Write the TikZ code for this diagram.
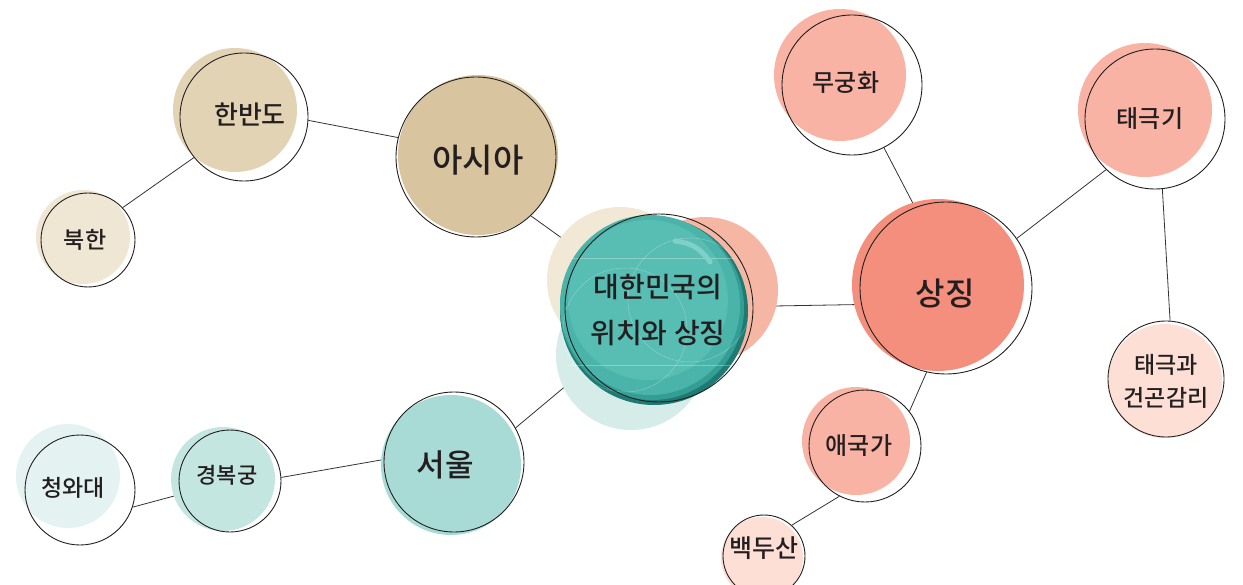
\documentclass[tikz,border=0pt]{standalone}
\usepackage{fontspec}
\setmainfont{Noto Sans CJK KR}[UprightFont=* Medium]
\usetikzlibrary{backgrounds}
\definecolor{txt}{HTML}{231F20}
\definecolor{ringc}{HTML}{231F20}
\definecolor{linec}{HTML}{333333}
\definecolor{tanA}{HTML}{E3D3B5}
\definecolor{tanB}{HTML}{D9C4A0}
\definecolor{tanC}{HTML}{EFE6D3}
\definecolor{salA}{HTML}{F9B3A4}
\definecolor{salB}{HTML}{F48F7E}
\definecolor{salC}{HTML}{FDDFD6}
\definecolor{tealA}{HTML}{A8DBD6}
\definecolor{tealB}{HTML}{C4E6E1}
\definecolor{tealC}{HTML}{E4F3F2}
\definecolor{decBeige}{HTML}{F2E8D6}
\definecolor{decSal}{HTML}{F5B6A3}
\definecolor{decTeal}{HTML}{D6ECE9}
\definecolor{tb1}{HTML}{58BDB3}
\definecolor{tb2}{HTML}{4BB4AA}
\definecolor{tb3}{HTML}{349D94}
\definecolor{tb4}{HTML}{1F7A73}
\definecolor{hilite}{HTML}{7FD0C8}
% name, ring x, ring y, ring r, fill x, fill y, fill r, colour
\newcommand\mkbub[8]{%
  \fill[white] (#2,#3) circle (#4pt);
  \fill[#8] (#5,#6) circle (#7pt);
  \node[ring, minimum size=2*#4pt] (#1) at (#2,#3) {};
}
\begin{document}
\begin{tikzpicture}[x=1pt,y=-1pt,
  ring/.style={circle, draw=ringc, line width=0.9pt, inner sep=0pt},
  lab/.style={inner sep=0pt, text=txt, align=center},
  link/.style={draw=linec, line width=0.8pt}]
\useasboundingbox (0,0) rectangle (1243,585);

% centre node with decorative discs
\fill[decBeige] (620,280) circle (73pt);
\fill[decSal] (705,290) circle (73pt);
\fill[decTeal] (631,355) circle (75pt);
% teal ball: darker rim at the bottom right, lighter core
\fill[tb4] (654,311) circle (94pt);
\fill[tb3] (652,308) circle (92pt);
\fill[tb2] (650,305) circle (90pt);
\fill[tb1] (648,300) circle (80pt);
\begin{scope}[white, opacity=0.3, line width=0.5pt]
  \draw (690,300) circle (62pt);
  \draw (625,330) circle (62pt);
  \draw (572,258) -- (735,258);
  \draw (568,365) -- (740,365);
\end{scope}
\draw[hilite, line width=5pt, line cap=round] (675,241) to[bend left=25] (710,262);
\node[ring, minimum size=188pt] (ctr) at (659,308) {};
\node[lab, font=\fontsize{28}{46}\selectfont] (ctr-t) at (658,310) {대한민국의\\위치와 상징};

% Asia branch
\mkbub{asia}{476}{157}{80}{478}{155}{80}{tanB}
\node[lab, font=\fontsize{33}{38}\selectfont] (asia-t) at (478,160) {아시아};
\mkbub{hb}{244}{117}{64}{235}{110}{62}{tanA}
\node[lab, font=\fontsize{26}{30}\selectfont] (hb-t) at (250,115) {한반도};
\mkbub{bh}{88}{240}{47}{83}{237}{47}{tanC}
\node[lab, font=\fontsize{23}{27}\selectfont] (bh-t) at (85,240) {북한};

% Seoul branch
\mkbub{seoul}{454}{462}{70}{451}{465}{70}{tealA}
\node[lab, font=\fontsize{31}{36}\selectfont] (seoul-t) at (445,465) {서울};
\mkbub{gbg}{230}{481}{51}{223}{479}{52}{tealB}
\node[lab, font=\fontsize{22}{26}\selectfont] (gbg-t) at (227,475) {경복궁};
\mkbub{cwd}{80}{490}{55}{68}{476}{52}{tealC}
\node[lab, font=\fontsize{23}{27}\selectfont] (cwd-t) at (73,488) {청와대};

% Symbol branch
\mkbub{sj}{946}{288}{86}{938}{285}{86}{salB}
\node[lab, font=\fontsize{32}{38}\selectfont] (sj-t) at (945,294) {상징};
\mkbub{mgh}{852}{85}{70}{840}{75}{66}{salA}
\node[lab, font=\fontsize{24}{28}\selectfont] (mgh-t) at (846,83) {무궁화};
\mkbub{tgg}{1155}{119}{70}{1145}{110}{67}{salA}
\node[lab, font=\fontsize{24}{28}\selectfont] (tgg-t) at (1150,119) {태극기};
\mkbub{tgk}{1166}{379}{58}{1165}{381}{57}{salC}
\node[lab, font=\fontsize{23}{33}\selectfont] (tgk-t) at (1166,381) {태극과\\건곤감리};
\mkbub{agg}{865}{446}{56}{856}{441}{54}{salA}
\node[lab, font=\fontsize{24}{28}\selectfont] (agg-t) at (859,446) {애국가};
\mkbub{bds}{764}{556}{41}{762}{558}{41}{salC}
\node[lab, font=\fontsize{25}{29}\selectfont] (bds-t) at (764,548) {백두산};

% connectors
\begin{scope}[on background layer]
  \draw[link] (hb.-3) -- (asia.166);
  \draw[link] (hb.219) -- (bh.43);
  \draw[link] (asia.-47) -- (ctr.center);
  \draw[link] (seoul.29) -- (ctr.center);
  \draw[link] (seoul.178) -- (gbg.4);
  \draw[link] (cwd.-18) -- (gbg.center);
  \draw[link] (ctr.center) -- (sj.191);
  \draw[link] (sj.111) -- (mgh.-63);
  \draw[link] (sj.35) -- (tgg.226);
  \draw[link] (tgg.-84) -- (tgk.86);
  \draw[link] (sj.-103) -- (agg.38);
  \draw[link] (agg.-117) -- (bds.48);
\end{scope}
\end{tikzpicture}
\end{document}
